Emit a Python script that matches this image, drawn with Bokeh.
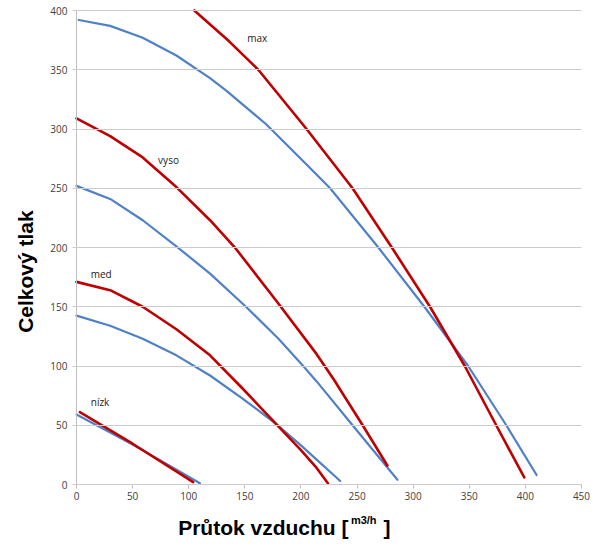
import math
from bokeh.plotting import figure
from bokeh.models import Range1d, FixedTicker, Label
from bokeh.embed import file_html
from bokeh.resources import INLINE

# ---- data ----
max_red_x = [105, 136, 162, 205, 246, 281, 315, 346, 374, 399]
max_red_y = [400, 374, 350, 300, 250, 200, 150, 100, 50, 6]
max_blue_x = [2, 30, 59, 89, 119, 134, 169, 205, 226, 269, 310, 349, 383, 410]
max_blue_y = [392, 387, 377, 362, 343, 332, 304, 270, 250, 200, 150, 100, 50, 8]

vyso_red_x = [0, 30, 59, 89, 119, 142, 178, 214, 229, 255, 277]
vyso_red_y = [309, 294, 276, 251, 223, 199, 155, 110, 89, 50, 16]
vyso_blue_x = [0, 30, 59, 89, 119, 151, 180, 202, 214, 246, 286]
vyso_blue_y = [252, 241, 223, 201, 178, 150, 123, 100, 87, 50, 4]

med_red_x = [0, 30, 59, 89, 119, 148, 178, 200, 214, 224]
med_red_y = [171, 164, 150, 131, 109, 81, 51, 29, 14, 1]
med_blue_x = [0, 30, 59, 89, 119, 148, 178, 200, 214, 235]
med_blue_y = [142.5, 134, 123, 109, 92, 72.5, 51, 33, 21, 3]

nizk_red_x = [3, 50, 104]
nizk_red_y = [61, 34.4, 2]
nizk_blue_x = [0, 50, 110]
nizk_blue_y = [59, 33.8, 1]

curve_labels = ["max", "vyso", "med", "nízk"]
curve_label_x = [161, 82, 22, 21]
curve_label_y = [377, 274, 178, 70]

x_ticks = [0, 50, 100, 150, 200, 250, 300, 350, 400, 450]
y_ticks = [0, 50, 100, 150, 200, 250, 300, 350, 400]

RED = "#c00000"
BLUE = "#4f81c9"

# The frame covers the whole canvas; both axes are pinned at 0 so that the
# axis titles (labels) around the data area remain visible.
p = figure(width=593, height=552, output_backend="svg", toolbar_location=None,
           x_range=Range1d(-67.72, 460.70), y_range=Range1d(-57.38, 408.44),
           min_border_left=0, min_border_right=0, min_border_top=0, min_border_bottom=0)
p.outline_line_color = None
p.background_fill_color = "white"
p.border_fill_color = "white"
p.xgrid.grid_line_color = None
p.ygrid.grid_line_color = None

p.xaxis.ticker = FixedTicker(ticks=x_ticks)
p.yaxis.ticker = FixedTicker(ticks=y_ticks)
p.xaxis.fixed_location = 0
p.yaxis.fixed_location = 0
p.xaxis.bounds = (0, 450)
p.yaxis.bounds = (0, 400)
for ax in (p.xaxis, p.yaxis):
    ax.axis_line_color = "#bfbfbf"
    ax.major_tick_out = 4
    ax.major_tick_in = 0
    ax.minor_tick_line_color = None
    ax.major_label_text_font = "Open Sans"
    ax.major_label_text_font_size = "10px"
    ax.major_label_text_color = "#404040"
p.xaxis.major_tick_line_color = "#bfbfbf"
# horizontal grid lines: y-axis major ticks reaching across the data area
p.yaxis.major_tick_line_color = "#cccccc"
p.yaxis.major_tick_in = 505
p.xaxis.major_label_standoff = 3
p.yaxis.major_label_standoff = 5

lk = dict(line_join="round", line_cap="round")
p.line(max_blue_x, max_blue_y, line_color=BLUE, line_width=2.2, **lk)
p.line(max_red_x, max_red_y, line_color=RED, line_width=2.6, **lk)
p.line(vyso_blue_x, vyso_blue_y, line_color=BLUE, line_width=2.2, **lk)
p.line(vyso_red_x, vyso_red_y, line_color=RED, line_width=2.6, **lk)
p.line(med_blue_x, med_blue_y, line_color=BLUE, line_width=2.2, **lk)
p.line(med_red_x, med_red_y, line_color=RED, line_width=2.6, **lk)
p.line(nizk_blue_x, nizk_blue_y, line_color=BLUE, line_width=2.2, **lk)
p.line(nizk_red_x, nizk_red_y, line_color=RED, line_width=2.6, **lk)

for t, lx, ly in zip(curve_labels, curve_label_x, curve_label_y):
    p.add_layout(Label(x=lx, y=ly, text=t, text_font="Open Sans", text_font_size="10px",
                       text_color="#222222", text_align="center", text_baseline="middle"))

# y axis title
p.add_layout(Label(x=-45.4, y=179.7, text="Celkový tlak", angle=math.pi / 2,
                   text_font="Liberation Sans", text_font_style="bold", text_font_size="21px",
                   text_color="black", text_align="center", text_baseline="middle"))

# x axis title pieces
p.add_layout(Label(x=242.4, y=-36.3, text="Průtok vzduchu [",
                   text_font="Liberation Sans", text_font_style="bold", text_font_size="21px",
                   text_color="black", text_align="right", text_baseline="alphabetic"))
p.add_layout(Label(x=244.5, y=-24.5, text="m3/h",
                   text_font="Liberation Sans", text_font_style="bold", text_font_size="11px",
                   text_color="black", text_align="left", text_baseline="top"))
p.add_layout(Label(x=273.6, y=-36.3, text="]",
                   text_font="Liberation Sans", text_font_style="bold", text_font_size="21px",
                   text_color="black", text_align="left", text_baseline="alphabetic"))

open("out.html", "w").write(file_html(p, INLINE))
